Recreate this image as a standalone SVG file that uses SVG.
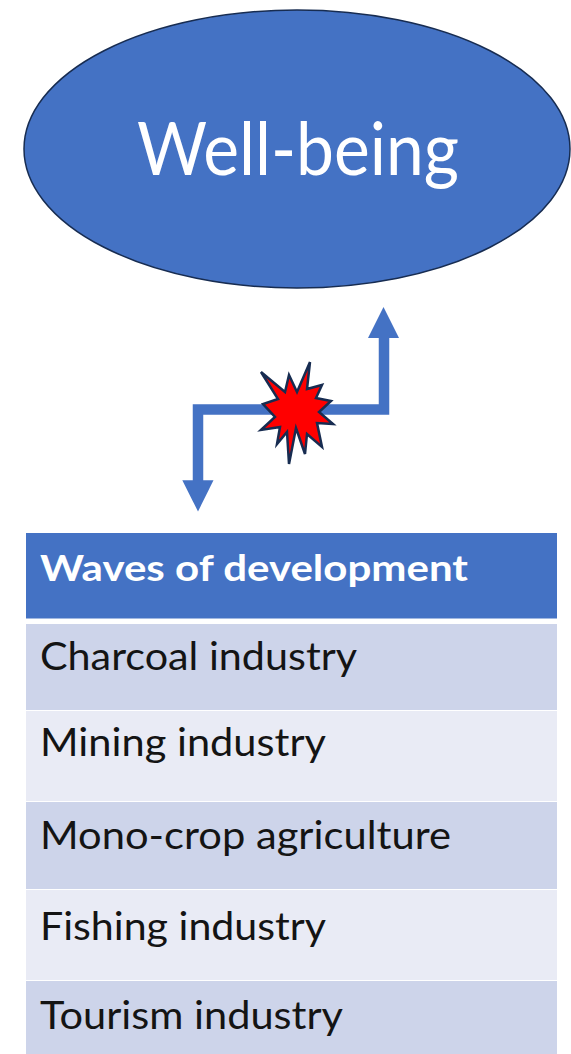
<svg xmlns="http://www.w3.org/2000/svg" width="571" height="1054" viewBox="0 0 571 1054">
<style>
text{font-family:"Lato","Open Sans",sans-serif}
.row{font-size:38px;fill:#141414}
.conn{fill:none;stroke:#4472c4;stroke-width:10.5}
.arrow{fill:#4472c4}
</style>
<rect width="571" height="1054" fill="#fff"/>
<g id="well-being">
<ellipse cx="297" cy="149" rx="273" ry="139" fill="#4472c4" stroke="#172c51" stroke-width="1.5"/>
<text x="137" y="175" font-size="73" fill="#fff" textLength="322" lengthAdjust="spacingAndGlyphs">Well-being</text>
</g>
<g id="connectors">
<path class="conn" d="M384 336V409.5H198V482"/>
<polygon class="arrow" points="383.5,307 399,338 368,338"/>
<polygon class="arrow" points="198,511.5 182.3,480.3 213.5,480.3"/>
</g>
<g id="burst">
<polygon fill="#ff0000" stroke="#172c51" stroke-width="2.5" points="261,372 285,392 289,375 297,392 310,362 307,389 322,385 316,398 331,401 319,412 333,424 317,423 322,447 307,434 305,454 296,428 289,464 287,432 277,444 280,427 261,430 275,417 263,404 278,399"/>
</g>
<g id="table">
<rect x="26" y="533" width="531" height="85.500" fill="#4472c4"/>
<rect x="26" y="624" width="531" height="86" fill="#cdd4ea"/>
<rect x="26" y="711" width="531" height="90" fill="#e9ebf5"/>
<rect x="26" y="802" width="531" height="87" fill="#cdd4ea"/>
<rect x="26" y="890" width="531" height="90" fill="#e9ebf5"/>
<rect x="26" y="981" width="531" height="73" fill="#cdd4ea"/>
<text x="40" y="581" font-size="37" font-weight="700" fill="#fff" textLength="428" lengthAdjust="spacingAndGlyphs">Waves of development</text>
<text class="row" x="40" y="670" textLength="317" lengthAdjust="spacingAndGlyphs">Charcoal industry</text>
<text class="row" x="40" y="756" textLength="286" lengthAdjust="spacingAndGlyphs">Mining industry</text>
<text class="row" x="40" y="849" textLength="411" lengthAdjust="spacingAndGlyphs">Mono-crop agriculture</text>
<text class="row" x="40" y="940" textLength="286" lengthAdjust="spacingAndGlyphs">Fishing industry</text>
<text class="row" x="40" y="1029" textLength="303" lengthAdjust="spacingAndGlyphs">Tourism industry</text>
</g>
</svg>
